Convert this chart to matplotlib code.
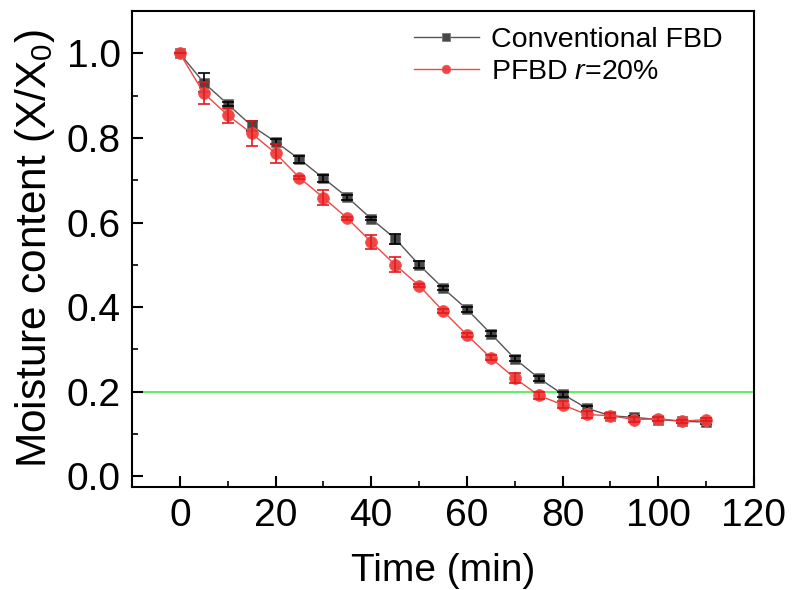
import numpy as np
import matplotlib.pyplot as plt

plt.rcParams['font.family'] = ['Liberation Sans', 'DejaVu Sans']
plt.rcParams['mathtext.fontset'] = 'custom'
plt.rcParams['mathtext.rm'] = 'Liberation Sans'
plt.rcParams['mathtext.it'] = 'Liberation Sans:italic'

# Data
time = [0, 5, 10, 15, 20, 25, 30, 35, 40, 45, 50, 55, 60, 65, 70, 75, 80, 85, 90, 95, 100, 105, 110]
conv = [1.0, 0.931, 0.880, 0.829, 0.791, 0.750, 0.705, 0.660, 0.609, 0.562, 0.500, 0.445,
        0.395, 0.337, 0.278, 0.232, 0.194, 0.161, 0.143, 0.139, 0.134, 0.130, 0.128]
conv_err = [0, 0.022, 0.005, 0.012, 0.006, 0.008, 0.008, 0.006, 0.004, 0.012, 0.008, 0.004,
            0.006, 0.006, 0.006, 0.006, 0.006, 0.006, 0.005, 0.004, 0.004, 0.004, 0.004]
pfbd = [1.0, 0.906, 0.854, 0.811, 0.764, 0.706, 0.659, 0.610, 0.554, 0.500, 0.451, 0.391,
        0.334, 0.280, 0.232, 0.191, 0.169, 0.146, 0.143, 0.134, 0.136, 0.130, 0.134]
pfbd_err = [0, 0.026, 0.018, 0.030, 0.022, 0.004, 0.018, 0.004, 0.017, 0.018, 0.004, 0.004,
            0.004, 0.006, 0.012, 0.008, 0.008, 0.008, 0.006, 0.005, 0.005, 0.004, 0.004]
threshold = 0.2

fig = plt.figure(figsize=(7.92, 5.9), dpi=100)
ax = fig.add_axes([0.1667, 0.175, 0.7853, 0.806])

ax.axhline(threshold, color='#66ee66', lw=1.5, zorder=1)

ax.plot(time, conv, color='#555555', lw=1, marker='s', ms=7.8,
        mfc='#484848', mec='#7a7a7a', mew=0.6, label='Conventional FBD', zorder=2)
ax.errorbar(time, conv, yerr=conv_err, fmt='none', ecolor='black',
            elinewidth=1.2, capsize=4, capthick=1.2, zorder=3)

ax.plot(time, pfbd, color='#f03c3c', lw=1, marker='o', ms=8.5,
        mfc='#f03c3c', mec='#f25555', mew=0.6, alpha=0.95,
        label='PFBD $\\it{r}$=20%', zorder=4)
ax.errorbar(time, pfbd, yerr=pfbd_err, fmt='none', ecolor='#e41a1a',
            elinewidth=1.2, capsize=4, capthick=1.2, zorder=5)

ax.set_xlim(-10, 120)
ax.set_ylim(-0.025, 1.1)
ax.set_xticks(np.arange(0, 121, 20))
ax.set_xticks(np.arange(10, 120, 20), minor=True)
ax.set_yticks(np.arange(0, 1.01, 0.2))
ax.set_yticks(np.arange(0.1, 1.0, 0.2), minor=True)
ax.set_yticklabels(['0.0', '0.2', '0.4', '0.6', '0.8', '1.0'])

ax.tick_params(which='major', direction='in', length=8, width=1.5, labelsize=28, pad=8)
ax.tick_params(which='minor', direction='in', length=4, width=1.2)
for s in ax.spines.values():
    s.set_linewidth(1.5)

ax.set_xlabel('Time (min)', fontsize=28, labelpad=14)
ax.set_ylabel('Moisture content (X/X$_0$)', fontsize=30.5, labelpad=7)

ax.legend(loc='upper right', frameon=False, fontsize=20.5, markerscale=0.72,
          handlelength=2.3, handletextpad=0.4, labelspacing=0.2,
          bbox_to_anchor=(0.99, 1.02))

fig.savefig('out.png', dpi=100)
